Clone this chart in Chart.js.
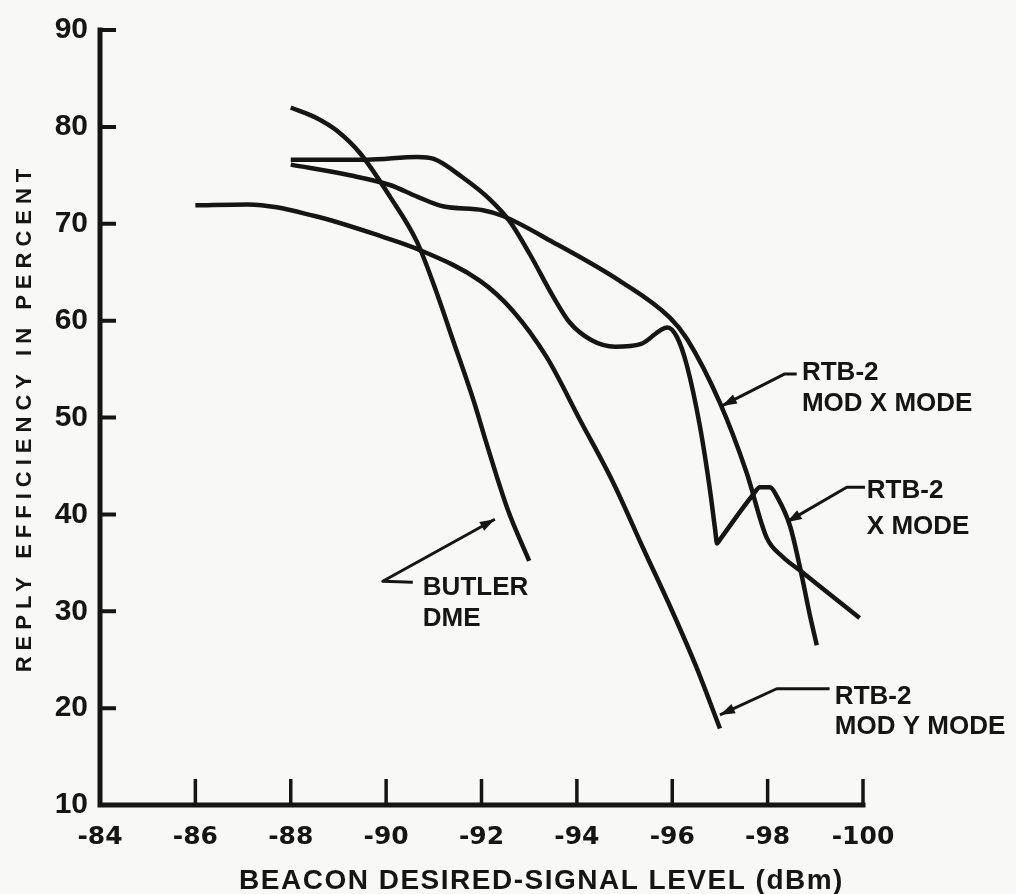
<!DOCTYPE html>
<html>
<head>
<meta charset="utf-8">
<script src="https://cdn.jsdelivr.net/npm/chart.js@4.4.1/dist/chart.umd.min.js"></script>
<style>
    html, body { margin: 0; padding: 0; background: #f8f8f6; }
    #wrap { width: 1016px; height: 894px; }
</style>
</head>
<body>
<div id="wrap"><canvas id="chart" width="1016" height="894"></canvas></div>
<script>
// Reply efficiency (%) vs beacon desired-signal level (dBm)
const butlerX = [-88, -88.55, -88.97, -89.45, -90.08, -90.65, -91.0, -91.4, -91.85, -92.1, -92.55, -93.0];
const butlerY = [82, 80.9, 79.6, 77.3, 72.8, 68.1, 63.7, 58.0, 51.5, 47.4, 40.5, 35.2];

const modXX = [-88, -89.24, -90.08, -90.65, -91.19, -92.03, -92.45, -93.5, -94.9, -95.95, -96.31, -97.0, -97.56, -97.98, -98.32, -98.68, -99.93];
const modXY = [76.1, 75.0, 74.0, 72.8, 71.8, 71.4, 70.8, 68.1, 64.1, 60.3, 58.1, 51.5, 44.3, 37.6, 35.6, 34.2, 29.3];

const xModeX = [-88, -89.6, -90.65, -91.0, -91.6, -92.18, -92.6, -93.02, -93.5, -93.85, -94.3, -94.8, -95.35, -95.9, -96.1, -96.3, -96.58, -96.8, -96.9, -96.94, -97.0, -97.69, -97.84, -98.05, -98.2, -98.47, -98.68, -98.89, -99.03];
const xModeY = [76.6, 76.6, 76.9, 76.7, 74.8, 72.5, 70.2, 66.8, 62.5, 59.8, 58.0, 57.3, 57.6, 59.3, 58.3, 55.5, 49.1, 42.2, 38.4, 37.0, 37.4, 42.0, 42.8, 42.8, 41.8, 38.8, 34.5, 29.5, 26.5];

const modYX = [-86, -87.1, -88.5, -89.9, -90.65, -91.97, -92.66, -93.37, -94.06, -94.76, -95.4, -96.0, -96.5, -97.0];
const modYY = [71.9, 72.0, 70.8, 68.7, 67.4, 64.1, 61.0, 56.2, 49.8, 43.3, 36.4, 30.0, 24.3, 17.9];

const xTicks = [-84, -86, -88, -90, -92, -94, -96, -98, -100];
const yTicks = [10, 20, 30, 40, 50, 60, 70, 80, 90];

// curve labels and their leader arrows, in data units
const noteLines = [['BUTLER', 'DME'], ['RTB-2', 'MOD X MODE'], ['RTB-2', 'X MODE'], ['RTB-2', 'MOD Y MODE']];
const noteX = [-90.77, -98.72, -100.08, -99.41];
const noteBase1 = [31.65, 53.9, 41.7, 20.4];
const noteBase2 = [28.5, 50.65, 37.95, 17.3];
const arrowPaths = [
    [[-90.56, 33.0], [-89.93, 33.1], [-92.28, 39.5]],
    [[-98.61, 54.5], [-98.36, 54.5], [-97.04, 51.2]],
    [[-100.04, 42.8], [-99.66, 42.8], [-98.4, 39.2]],
    [[-99.3, 22.0], [-98.19, 22.0], [-97.0, 19.3]]
];

const ink = '#151515';

function pts(xs, ys) {
    return xs.map((x, i) => ({ x: x, y: ys[i] }));
}

function curve(label, xs, ys) {
    return {
        label: label,
        data: pts(xs, ys),
        borderColor: ink,
        borderWidth: 4.5,
        pointRadius: 0,
        fill: false,
        cubicInterpolationMode: 'monotone'
    };
}

// paper background, hand drawn axes with inward ticks, titles and callouts
const paperPlugin = {
    id: 'paper',
    beforeDraw(chart) {
        const ctx = chart.ctx;
        ctx.save();
        ctx.fillStyle = '#f8f8f6';
        ctx.fillRect(0, 0, chart.width, chart.height);
        ctx.restore();
    },
    afterDraw(chart) {
        const ctx = chart.ctx;
        const sx = chart.scales.x;
        const sy = chart.scales.y;
        const area = chart.chartArea;
        ctx.save();
        ctx.strokeStyle = ink;
        ctx.fillStyle = ink;

        // axes
        ctx.lineWidth = 5;
        ctx.lineCap = 'square';
        ctx.lineJoin = 'miter';
        ctx.beginPath();
        ctx.moveTo(area.left, sy.getPixelForValue(90));
        ctx.lineTo(area.left, sy.getPixelForValue(10));
        ctx.lineTo(sx.getPixelForValue(-100), sy.getPixelForValue(10));
        ctx.stroke();

        // inward tick marks
        ctx.lineCap = 'butt';
        ctx.lineWidth = 4;
        ctx.beginPath();
        yTicks.forEach(v => {
            if (v === 10) return;
            const py = sy.getPixelForValue(v);
            ctx.moveTo(area.left, py);
            ctx.lineTo(area.left + 16, py);
        });
        ctx.stroke();
        ctx.lineWidth = 3.5;
        ctx.beginPath();
        xTicks.forEach(v => {
            if (v === -84) return;
            const px = sx.getPixelForValue(v);
            ctx.moveTo(px, area.bottom);
            ctx.lineTo(px, area.bottom - 26);
        });
        ctx.stroke();

        // axis titles
        ctx.textBaseline = 'alphabetic';
        ctx.textAlign = 'center';
        ctx.font = 'bold 28px "Liberation Sans"';
        ctx.letterSpacing = '1.5px';
        ctx.fillText('BEACON DESIRED-SIGNAL LEVEL (dBm)', (area.left + area.right) / 2 + 60, area.bottom + 84);

        ctx.save();
        ctx.translate(area.left - 75, (area.top + area.bottom) / 2);
        ctx.rotate(-Math.PI / 2);
        ctx.font = 'bold 22px "Liberation Sans"';
        ctx.letterSpacing = '6px';
        ctx.textBaseline = 'middle';
        ctx.fillText('REPLY EFFICIENCY IN PERCENT', 0, 0);
        ctx.restore();

        // callout text
        ctx.letterSpacing = '0px';
        ctx.textAlign = 'left';
        ctx.font = 'bold 26px "Liberation Sans"';
        noteLines.forEach((lines, i) => {
            const px = sx.getPixelForValue(noteX[i]);
            ctx.fillText(lines[0], px, sy.getPixelForValue(noteBase1[i]));
            ctx.fillText(lines[1], px, sy.getPixelForValue(noteBase2[i]));
        });

        // leader arrows
        ctx.lineWidth = 3;
        ctx.lineJoin = 'round';
        arrowPaths.forEach(path => {
            const p = path.map(d => [sx.getPixelForValue(d[0]), sy.getPixelForValue(d[1])]);
            ctx.beginPath();
            ctx.moveTo(p[0][0], p[0][1]);
            for (let k = 1; k < p.length; k++) ctx.lineTo(p[k][0], p[k][1]);
            ctx.stroke();
            const tip = p[p.length - 1];
            const prev = p[p.length - 2];
            const ang = Math.atan2(tip[1] - prev[1], tip[0] - prev[0]);
            ctx.beginPath();
            ctx.moveTo(tip[0], tip[1]);
            ctx.lineTo(tip[0] - 15 * Math.cos(ang) + 5 * Math.sin(ang), tip[1] - 15 * Math.sin(ang) - 5 * Math.cos(ang));
            ctx.lineTo(tip[0] - 15 * Math.cos(ang) - 5 * Math.sin(ang), tip[1] - 15 * Math.sin(ang) + 5 * Math.cos(ang));
            ctx.closePath();
            ctx.fill();
        });
        ctx.restore();
    }
};

new Chart(document.getElementById('chart'), {
    type: 'line',
    data: {
        datasets: [
            curve('BUTLER DME', butlerX, butlerY),
            curve('RTB-2 MOD X MODE', modXX, modXY),
            curve('RTB-2 X MODE', xModeX, xModeY),
            curve('RTB-2 MOD Y MODE', modYX, modYY)
        ]
    },
    options: {
        responsive: false,
        animation: false,
        events: [],
        layout: { padding: { left: 0, right: 153, top: 18, bottom: 0 } },
        plugins: {
            legend: { display: false },
            tooltip: { enabled: false }
        },
        scales: {
            x: {
                type: 'linear',
                reverse: true,
                min: -100,
                max: -84,
                afterFit(scale) { scale.height = 89; },
                grid: { display: false, drawTicks: false },
                border: { display: false },
                ticks: {
                    stepSize: 2,
                    autoSkip: false,
                    maxRotation: 0,
                    padding: 17,
                    color: ink,
                    font: { family: 'DejaVu Sans', size: 25, weight: 'bold' },
                    callback: v => String(v)
                }
            },
            y: {
                type: 'linear',
                min: 10,
                max: 90,
                afterFit(scale) { scale.width = 100; },
                grid: { display: false, drawTicks: false },
                border: { display: false },
                ticks: {
                    stepSize: 10,
                    autoSkip: false,
                    padding: 12,
                    color: ink,
                    font: { family: 'Liberation Sans', size: 30, weight: 'bold' },
                    callback: v => String(v)
                }
            }
        }
    },
    plugins: [paperPlugin]
});
</script>
</body>
</html>
